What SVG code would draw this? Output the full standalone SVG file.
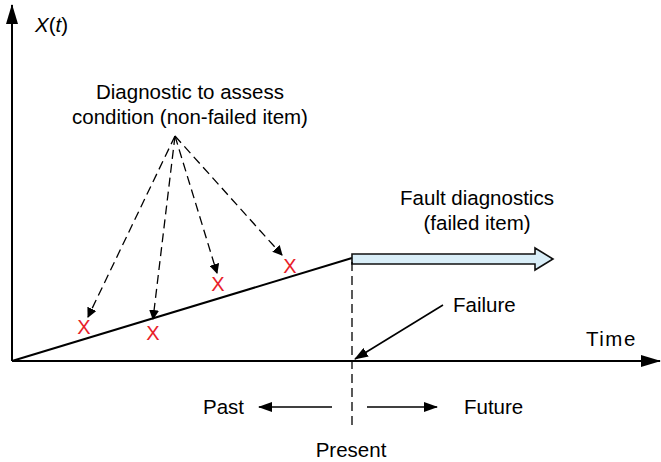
<svg xmlns="http://www.w3.org/2000/svg" width="661" height="462" viewBox="0 0 661 462">
  <style>
    text { font-family: "Liberation Sans", Arial, sans-serif; font-size: 20.5px; fill: #000; }
    .mark { fill: #e8202a; font-size: 20px; }
    .solid { stroke: #000; stroke-width: 2; fill: none; }
    .thin { stroke: #000; stroke-width: 1.6; fill: none; }
    .dash { stroke: #000; stroke-width: 1.3; fill: none; stroke-dasharray: 9 5; }
  </style>
  <defs>
    <marker id="big" markerWidth="10" markerHeight="10" refX="9" refY="5" orient="auto" markerUnits="userSpaceOnUse" viewBox="0 0 10 10">
      <path d="M0,0 L10,5 L0,10 Z" fill="#000"/>
    </marker>
    <marker id="axis" markerWidth="20" markerHeight="12" refX="19" refY="6" orient="auto" markerUnits="userSpaceOnUse" viewBox="0 0 20 12">
      <path d="M0,0 L20,6 L0,12 Z" fill="#000"/>
    </marker>
    <marker id="small" markerWidth="14" markerHeight="10" refX="13" refY="5" orient="auto" markerUnits="userSpaceOnUse" viewBox="0 0 14 10">
      <path d="M0,0 L14,5 L0,10 Z" fill="#000"/>
    </marker>
  </defs>

  <!-- axes -->
  <g id="axes">
    <line class="solid" x1="12" y1="361" x2="12" y2="5" marker-end="url(#axis)"/>
    <line class="solid" x1="12" y1="361" x2="660" y2="361" marker-end="url(#axis)"/>
    <text x="35" y="32"><tspan font-style="italic">X</tspan>(<tspan font-style="italic">t</tspan>)</text>
    <text x="586" y="346" letter-spacing="1.5">Time</text>
  </g>

  <!-- degradation ramp -->
  <g id="ramp">
    <line class="solid" x1="12" y1="361" x2="352" y2="258"/>
  </g>

  <!-- assessment points -->
  <g id="marks">
    <text class="mark" x="84" y="334" text-anchor="middle">X</text>
    <text class="mark" x="153" y="340" text-anchor="middle">X</text>
    <text class="mark" x="218" y="291" text-anchor="middle">X</text>
    <text class="mark" x="290" y="273" text-anchor="middle">X</text>
  </g>

  <g id="diag-label">
    <text x="190" y="99" text-anchor="middle">Diagnostic to assess</text>
    <text x="190" y="124" text-anchor="middle">condition (non-failed item)</text>
  </g>

  <g id="fault-label">
    <text x="477" y="205" text-anchor="middle">Fault diagnostics</text>
    <text x="477" y="230" text-anchor="middle">(failed item)</text>
  </g>

  <!-- fault diagnostics block arrow -->
  <g id="fault-arrow">
    <path d="M352,254 L535,254 L535,248 L553,259 L535,270 L535,264 L352,264 Z" fill="#d9eef8" stroke="#111" stroke-width="1.6"/>
  </g>

  <g id="failure-label">
    <text x="453" y="312">Failure</text>
  </g>

  <g id="time-labels">
    <text x="203" y="414">Past</text>
    <text x="464" y="414">Future</text>
    <text x="351" y="457" text-anchor="middle">Present</text>
  </g>

  <!-- connectors -->
  <g id="connectors">
    <line class="dash" x1="175" y1="136" x2="88" y2="317" marker-end="url(#big)"/>
    <line class="dash" x1="175" y1="136" x2="153" y2="319" marker-end="url(#big)"/>
    <line class="dash" x1="175" y1="136" x2="217" y2="273" marker-end="url(#big)"/>
    <line class="dash" x1="175" y1="136" x2="282" y2="255" marker-end="url(#big)"/>
    <line class="dash" x1="352" y1="262" x2="352" y2="429"/>
    <line class="thin" x1="443" y1="305" x2="355" y2="359" marker-end="url(#small)"/>
    <line class="thin" x1="332" y1="407" x2="259" y2="407" marker-end="url(#small)"/>
    <line class="thin" x1="367" y1="407" x2="437" y2="407" marker-end="url(#small)"/>
  </g>
</svg>
